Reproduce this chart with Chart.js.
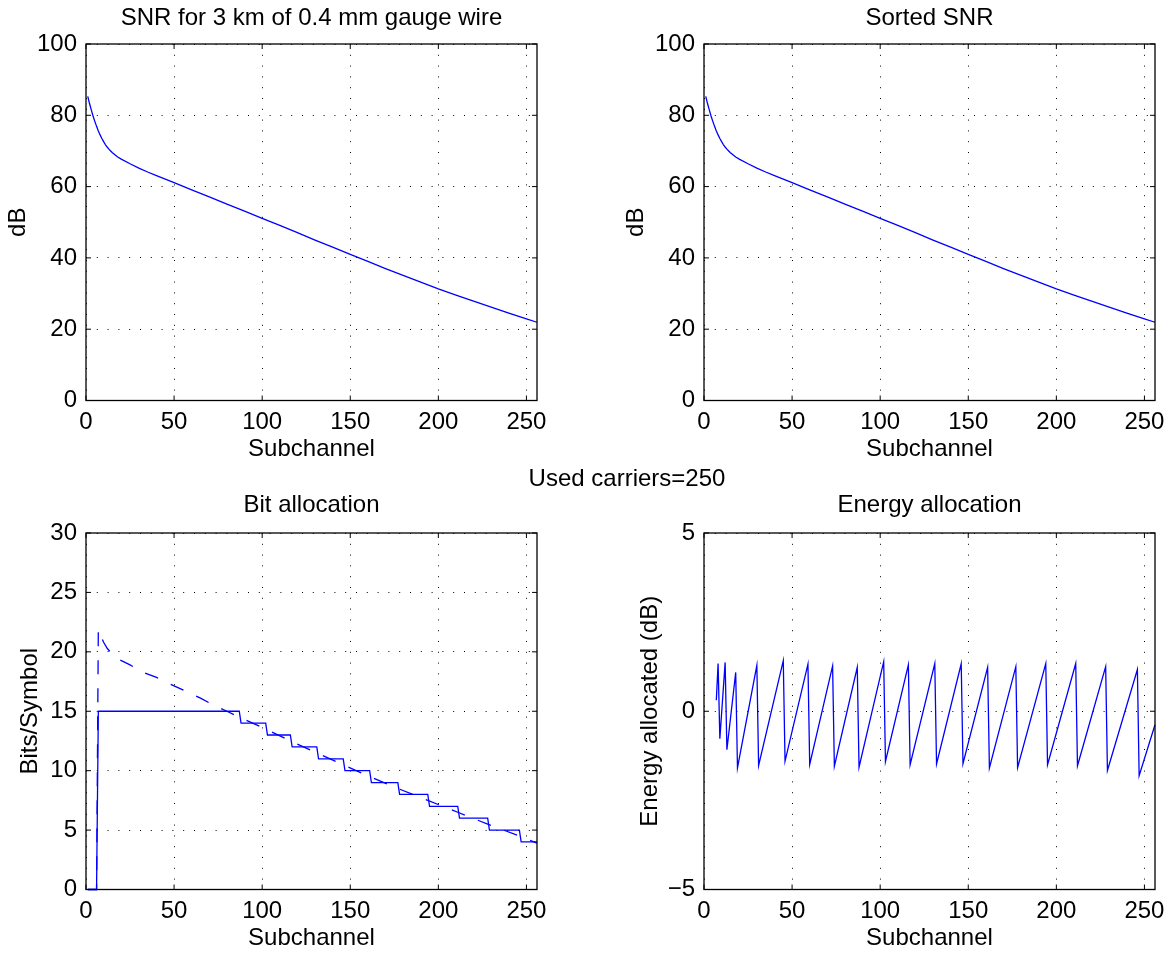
<!DOCTYPE html>
<html>
<head>
<meta charset="utf-8">
<script src="https://cdn.jsdelivr.net/npm/chart.js@4"></script>
<style>
  html, body { margin: 0; padding: 0; background: #fff; overflow: hidden; }
  body { width: 1170px; height: 953px; position: relative; font-family: "Liberation Sans", Arial, Helvetica, sans-serif; }
  .panel { position: absolute; }
  #suptitle { position: absolute; left: 627px; top: 478px; transform: translate(-50%, -50%); font-size: 24px; line-height: 1; white-space: nowrap; color: #000; }
</style>
</head>
<body>
<div class="panel" style="left:0;top:0;width:560px;height:470px"><canvas id="snrChart"></canvas></div>
<div class="panel" style="left:580px;top:0;width:593px;height:470px"><canvas id="sortedChart"></canvas></div>
<div id="suptitle">Used carriers=250</div>
<div class="panel" style="left:0;top:470px;width:560px;height:500px"><canvas id="bitChart"></canvas></div>
<div class="panel" style="left:580px;top:470px;width:593px;height:500px"><canvas id="energyChart"></canvas></div>
<script>
// SNR of the line (dB) per subchannel
const snrX  = [1, 2, 3, 4, 5, 6, 7, 8, 9, 10, 11, 12, 13, 14, 15, 18, 20, 25, 30, 35, 40, 50, 60, 70, 80,
               90, 100, 110, 120, 130, 140, 150, 160, 170, 180, 190, 200, 210, 220, 230, 240, 250, 256];
const snrDb = [85.3, 83.3, 81.5, 79.8, 78.3, 76.9, 75.6, 74.5, 73.5, 72.6, 71.8, 71.1, 70.5, 70.0, 69.5,
               68.3, 67.7, 66.4, 65.2, 64.1, 63.1, 61.1, 59.1, 57.1, 55.1, 53.1, 51.1, 49.1, 47.1, 45.0,
               43.0, 41.0, 39.0, 37.0, 35.1, 33.2, 31.3, 29.55, 27.85, 26.2, 24.5, 22.9, 21.95];
// sorted SNR (curve is already decreasing)
const sortedX  = snrX.slice();
const sortedDb = snrDb.slice().sort((a, b) => b - a);

// bit allocation: integer bits (corners of the staircase)
const bitsX = [1, 6, 7, 87, 88, 102, 103, 116, 117, 131, 132, 146, 147, 161, 162, 177, 178, 194, 195,
               211, 212, 228, 229, 246, 247, 256];
const bitsY = [0, 0, 15, 15, 14, 14, 13, 13, 12, 12, 11, 11, 10, 10, 9, 9, 8, 8, 7, 7, 6, 6, 5, 5, 4, 4];
// un-rounded bits (dashed)
const contX = [1, 6, 7, 10, 12, 15, 18, 25, 32, 40, 46, 55, 65, 72, 80, 87, 102, 116, 131, 146,
               161, 177, 194, 211, 228, 246, 256];
const contY = [0, 0, 21.9, 20.8, 20.3, 19.8, 19.4, 18.9, 18.3, 17.85, 17.4, 16.8, 16.1, 15.55, 15.0,
               14.5, 13.5, 12.5, 11.5, 10.5, 9.5, 8.5, 7.5, 6.5, 5.5, 4.5, 3.9];

// energy allocation (dB), peaks and troughs of the sawtooth
const energyX = [7, 8, 9, 12, 13, 18, 19, 30, 31, 45, 46, 59, 60, 73, 74, 87, 88, 102, 103, 116, 117,
                 131, 132, 146, 147, 161, 162, 177, 178, 194, 195, 211, 212, 228, 229, 246, 247, 256];
const energyY = [0.31, 1.34, -0.77, 1.37, -1.08, 1.09, -1.59, 1.29, -1.52, 1.42, -1.40, 1.32, -1.49,
                 1.27, -1.54, 1.23, -1.57, 1.39, -1.41, 1.30, -1.50, 1.34, -1.48, 1.33, -1.47, 1.23,
                 -1.59, 1.25, -1.58, 1.34, -1.50, 1.34, -1.53, 1.25, -1.66, 1.17, -1.81, -0.38];

const xTicksMax = 256;

Chart.defaults.font.family = '"Liberation Sans", Arial, Helvetica, sans-serif';
Chart.defaults.font.size = 24;
Chart.defaults.color = '#000';

const pts = (xs, ys) => xs.map((v, i) => ({x: v, y: ys[i]}));
const fmt = v => String(v).replace('-', '\u2212');

// box round the axes + inward ticks on all four sides, like matlab
const matlabBox = {
  id: 'matlabBox',
  afterDatasetsDraw(chart) {
    const {ctx, chartArea: a, scales: {x, y}} = chart;
    ctx.save();
    ctx.strokeStyle = '#000';
    ctx.setLineDash([]);
    ctx.lineWidth = 1;
    ctx.beginPath();
    x.ticks.forEach(t => {
      const px = x.getPixelForValue(t.value);
      ctx.moveTo(px, a.bottom); ctx.lineTo(px, a.bottom - 5);
      ctx.moveTo(px, a.top); ctx.lineTo(px, a.top + 5);
    });
    y.ticks.forEach(t => {
      const py = y.getPixelForValue(t.value);
      ctx.moveTo(a.left, py); ctx.lineTo(a.left + 5, py);
      ctx.moveTo(a.right, py); ctx.lineTo(a.right - 5, py);
    });
    ctx.stroke();
    ctx.lineWidth = 1.3;
    ctx.strokeRect(a.left, a.top, a.right - a.left, a.bottom - a.top);
    ctx.restore();
  }
};

function makePanel(id, p) {
  new Chart(document.getElementById(id), {
    type: 'line',
    data: {datasets: p.datasets},
    options: {
      responsive: true,
      maintainAspectRatio: false,
      animation: false,
      events: [],
      layout: {padding: {left: 0, top: 0, right: p.padRight, bottom: 0}},
      plugins: {
        legend: {display: false},
        tooltip: {enabled: false},
        title: {
          display: true, text: p.title, fullSize: false, color: '#000',
          font: {size: 24, weight: 'normal'},
          padding: p.titlePad
        }
      },
      scales: {
        x: {
          type: 'linear', min: 0, max: xTicksMax,
          grid: {color: '#000', lineWidth: 1, drawTicks: false},
          border: {display: false, dash: [1, 9.8]},
          ticks: {stepSize: 50, includeBounds: false, autoSkip: false, maxRotation: 0, padding: 7.1, callback: fmt},
          title: {display: true, text: 'Subchannel', font: {size: 24}, padding: {top: 0, bottom: p.xTitlePad}},
          afterFit: s => { s.height = p.xHeight; }
        },
        y: {
          type: 'linear', min: p.yMin, max: p.yMax,
          grid: {color: '#000', lineWidth: 1, drawTicks: false},
          border: {display: false, dash: [1, 9.8]},
          ticks: {stepSize: p.yStep, padding: 9, callback: fmt},
          title: {display: true, text: p.yLabel, font: {size: 24}, padding: {top: p.yTitlePad, bottom: 0}},
          afterFit: s => { s.width = p.yWidth; }
        }
      }
    },
    plugins: [matlabBox]
  });
}

const blueLine = (data, dash) => ({
  data, borderColor: '#0000ff', borderWidth: 1.3, borderDash: dash || [],
  pointRadius: 0, tension: 0, fill: false, clip: 4
});

makePanel('snrChart', {
  title: 'SNR for 3 km of 0.4 mm gauge wire', yLabel: 'dB',
  yMin: 0, yMax: 100, yStep: 20,
  padRight: 23, yWidth: 86, xHeight: 69.5, xTitlePad: 6.1, yTitlePad: 3.9,
  titlePad: {top: 4, bottom: 11.2},
  datasets: [blueLine(pts(snrX, snrDb))]
});

makePanel('sortedChart', {
  title: 'Sorted SNR', yLabel: 'dB',
  yMin: 0, yMax: 100, yStep: 20,
  padRight: 18, yWidth: 124, xHeight: 69.5, xTitlePad: 6.1, yTitlePad: 41.6,
  titlePad: {top: 4, bottom: 11.2},
  datasets: [blueLine(pts(sortedX, sortedDb))]
});

makePanel('bitChart', {
  title: 'Bit allocation', yLabel: 'Bits/Symbol',
  yMin: 0, yMax: 30, yStep: 5,
  padRight: 23, yWidth: 86, xHeight: 80.5, xTitlePad: 17.1, yTitlePad: 16.1,
  titlePad: {top: 20.6, bottom: 13.6},
  datasets: [blueLine(pts(bitsX, bitsY)), blueLine(pts(contX, contY), [14, 14])]
});

makePanel('energyChart', {
  title: 'Energy allocation', yLabel: 'Energy allocated (dB)',
  yMin: -5, yMax: 5, yStep: 5,
  padRight: 18, yWidth: 124, xHeight: 80.5, xTitlePad: 17.1, yTitlePad: 55.6,
  titlePad: {top: 20.6, bottom: 13.6},
  datasets: [blueLine(pts(energyX, energyY))]
});
</script>
</body>
</html>
